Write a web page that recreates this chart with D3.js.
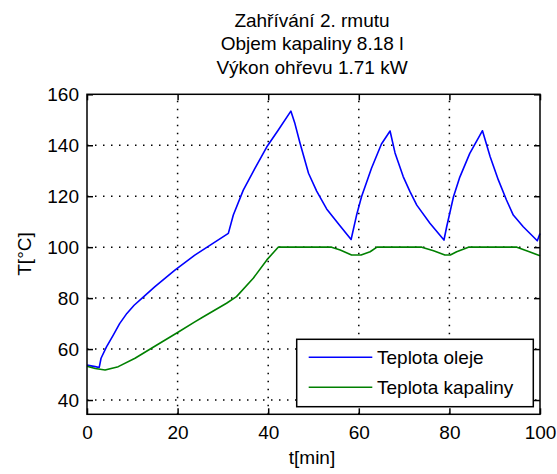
<!DOCTYPE html>
<html>
<head>
<meta charset="utf-8">
<script src="https://cdn.jsdelivr.net/npm/d3@7"></script>
<style>
  html, body { margin: 0; padding: 0; background: #fff; }
  svg { display: block; }
  text { font-family: "Liberation Sans", Arial, sans-serif; fill: #000; }
</style>
</head>
<body>
<svg id="chart" width="557" height="474"></svg>
<script>
// ---- data ----
const titleLines = ["Zahřívání 2. rmutu", "Objem kapaliny 8.18 l", "Výkon ohřevu 1.71 kW"];
const xLabel = "t[min]";
const yLabel = "T[°C]";
const seriesNames = ["Teplota oleje", "Teplota kapaliny"];
const xTicks = [0, 20, 40, 60, 80, 100];
const yTicks = [40, 60, 80, 100, 120, 140, 160];

// oil temperature (blue)
const oilTime = [0, 1.8, 2.7, 3.1, 4.3, 5.8, 7.2, 8.8, 10.4, 12.1, 15, 19.4, 23.8, 27.2, 31.2, 32.3, 34.5, 37.1, 39.7, 42.2, 45,
  45.9, 47, 48.9, 50.7, 52.9, 55.8, 58.3,
  59.5, 60.6, 62.8, 65, 66.9,
  68, 69.8, 71.3, 72.8, 75.7, 78.8,
  79.4, 80.9, 82.3, 84.5, 87.3,
  89, 90.8, 92.6, 94.1, 96.3, 99.4, 100];
const oilTemp = [53.7, 53.1, 52.8, 56.4, 60.9, 65.5, 70, 74, 77.2, 79.9, 84.5, 91, 96.9, 100.8, 105.4, 112.6, 122.4, 131, 139.4, 145.9, 153.4,
  148.5, 141, 129, 122, 115, 108.5, 103,
  112.5, 119.8, 131, 140.5, 145.6,
  137, 127.7, 121.8, 116.5, 109.4, 102.8,
  108, 119.8, 127.5, 136.8, 145.7,
  135.5, 126.4, 118.5, 112.6, 108, 102.5, 105.4];

// liquid temperature (green)
const liqTime = [0, 1.8, 4, 6.9, 10.6, 14.6, 20, 23.8, 25.7, 30.8, 33, 36.7, 39.7, 42.2,
  54, 55.9, 58.4, 60.5, 62.5, 64,
  73.9, 76.5, 79, 80.2, 81.6, 84.2,
  94.9, 97.5, 100];
const liqTemp = [53.3, 52.4, 51.8, 53.1, 56.4, 60.7, 66.5, 70.7, 72.7, 78, 80.6, 87.8, 95, 100,
  100, 98.9, 96.9, 96.9, 98.2, 100,
  100, 98.6, 96.9, 96.9, 98.2, 100,
  100, 98.3, 96.6];

// ---- drawing ----
const svg = d3.select("#chart");
const L = 87, R = 540, T = 94.3, B = 414.3;
const x = d3.scaleLinear().domain([0, 100]).range([L, R]);
const y = d3.scaleLinear().domain([34.4, 160]).range([B, T]);
const FS = 19;

// grid
const grid = svg.append("g").attr("stroke", "#000").attr("stroke-width", 1.5)
  .attr("stroke-dasharray", "1.5,6.5");
grid.selectAll("line.v").data(xTicks.filter(d => d > 0 && d < 100)).enter().append("line")
  .attr("x1", d => x(d)).attr("x2", d => x(d)).attr("y1", B).attr("y2", T);
grid.selectAll("line.h").data(yTicks.filter(d => d < 160)).enter().append("line")
  .attr("y1", d => y(d)).attr("y2", d => y(d)).attr("x1", L).attr("x2", R);

// lines
const lineGen = d3.line().x(d => x(d[0])).y(d => y(d[1]));
const oil = oilTime.map((t, i) => [t, oilTemp[i]]);
const liq = liqTime.map((t, i) => [t, liqTemp[i]]);
svg.append("path").datum(oil).attr("d", lineGen).attr("fill", "none")
  .attr("stroke", "#0000ff").attr("stroke-width", 1.6).attr("stroke-linejoin", "round");
svg.append("path").datum(liq).attr("d", lineGen).attr("fill", "none")
  .attr("stroke", "#008000").attr("stroke-width", 1.6).attr("stroke-linejoin", "round");

// axes
function styleAxis(g) {
  g.select(".domain").remove();
  g.selectAll(".tick line").attr("stroke", "#000").attr("stroke-width", 1.5);
  g.selectAll("text").style("font-size", FS + "px").attr("fill", "#000")
    .style("font-family", "'Liberation Sans', Arial, sans-serif");
}
svg.append("g").attr("transform", `translate(0,${B})`)
  .call(d3.axisBottom(x).tickValues(xTicks).tickSize(-6).tickPadding(11.5))
  .call(styleAxis);
svg.append("g").attr("transform", `translate(0,${T})`)
  .call(d3.axisTop(x).tickValues(xTicks).tickSize(-6).tickFormat(""))
  .call(styleAxis);
svg.append("g").attr("transform", `translate(${L},0)`)
  .call(d3.axisLeft(y).tickValues(yTicks).tickSize(-6).tickPadding(8))
  .call(styleAxis);
svg.append("g").attr("transform", `translate(${R},0)`)
  .call(d3.axisRight(y).tickValues(yTicks).tickSize(-6).tickFormat(""))
  .call(styleAxis);

// frame
svg.append("rect").attr("x", L).attr("y", T).attr("width", R - L).attr("height", B - T)
  .attr("fill", "none").attr("stroke", "#000").attr("stroke-width", 1.5);

// title
svg.append("g").selectAll("text").data(titleLines).enter().append("text")
  .attr("x", 312).attr("y", (d, i) => 26.7 + i * 23.7)
  .attr("text-anchor", "middle").style("font-size", FS + "px").text(d => d);

// axis labels
svg.append("text").attr("x", 312).attr("y", 464).attr("text-anchor", "middle")
  .style("font-size", FS + "px").text(xLabel);
svg.append("text").attr("transform", "translate(31,254) rotate(-90)").attr("text-anchor", "middle")
  .style("font-size", FS + "px").text(yLabel);

// legend
const lg = svg.append("g");
lg.append("rect").attr("x", 296.7).attr("y", 339.3).attr("width", 236.6).attr("height", 67.4)
  .attr("fill", "#fff").attr("stroke", "#000").attr("stroke-width", 1.5);
const colors = ["#0000ff", "#008000"];
seriesNames.forEach((name, i) => {
  const ly = 357.3 + i * 30;
  lg.append("line").attr("x1", 308.7).attr("x2", 372.3).attr("y1", ly).attr("y2", ly)
    .attr("stroke", colors[i]).attr("stroke-width", 1.6);
  lg.append("text").attr("x", 377).attr("y", ly + 6.8).style("font-size", FS + "px").text(name);
});
</script>
</body>
</html>
